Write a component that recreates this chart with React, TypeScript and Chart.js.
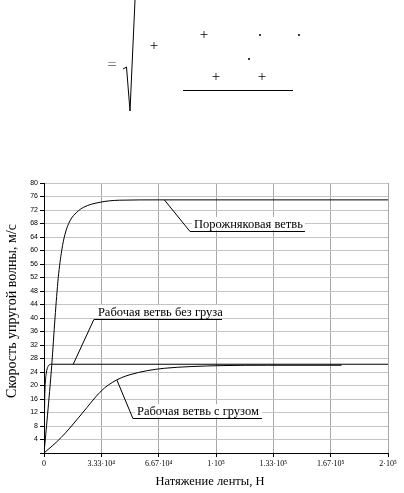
import React, { useEffect, useRef } from 'react';
import { Chart, registerables } from 'chart.js';
Chart.register(...registerables);

// Series: tension N (Н) and wave speed v (м/с)
const emptyN = [0, 2000, 4500, 6400, 8300, 10300, 12200, 15100, 19000, 23000, 32600, 44000, 67000, 200000];
const emptyV = [0, 11, 26, 40, 52, 60, 64.8, 68.8, 71.3, 72.8, 74.3, 74.9, 75, 75];
const unloadedN = [0, 400, 760, 1340, 2330, 4240, 200000];
const unloadedV = [0, 15.7, 20.7, 23.7, 25.6, 26.3, 26.3];
const loadedN = [0, 5000, 10000, 15000, 20000, 25000, 30000, 35000, 40000, 45000, 50000, 60000, 70000, 85000, 104000, 130000, 173000];
const loadedV = [0, 2.2, 4.6, 7.4, 10.4, 13.5, 16.6, 19.2, 21.0, 22.3, 23.2, 24.4, 25.1, 25.6, 25.9, 26.0, 26.0];

const xTickValues = [0, 33333.33, 66666.67, 100000, 133333.33, 166666.67, 200000];
const xTickLabels = ['0', '3.33·10⁴', '6.67·10⁴', '1·10⁵', '1.33·10⁵', '1.67·10⁵', '2·10⁵'];

// Callout labels (data coordinates)
const calloutTexts = ['Порожняковая ветвь', 'Рабочая ветвь без груза', 'Рабочая ветвь с грузом'];
const calloutAnchorN = [70000, 17000, 42400];
const calloutAnchorV = [75, 26.3, 21.6];
const calloutElbowN = [84900, 29000, 51700];
const calloutElbowV = [65.8, 39.7, 10.3];
const calloutEndN = [151700, 103500, 126700];

const xTitle = 'Натяжение ленты, Н';
const yTitle = 'Скорость упругой волны, м/с';

const zip = (xs: number[], ys: number[]) => xs.map((x, i) => ({ x, y: ys[i] }));

const extrasPlugin = {
  id: 'extras',
  afterDatasetsDraw(chart: any) {
    const ctx = chart.ctx as CanvasRenderingContext2D;
    const xs = chart.scales.x;
    const ys = chart.scales.y;
    ctx.save();
    // callouts
    ctx.font = '12.5px "Liberation Serif", serif';
    ctx.textBaseline = 'alphabetic';
    for (let i = 0; i < calloutTexts.length; i++) {
      const ax = xs.getPixelForValue(calloutAnchorN[i]);
      const ay = ys.getPixelForValue(calloutAnchorV[i]);
      const ex = xs.getPixelForValue(calloutElbowN[i]);
      const ey = ys.getPixelForValue(calloutElbowV[i]);
      const endx = xs.getPixelForValue(calloutEndN[i]);
      ctx.fillStyle = '#fff';
      ctx.fillRect(ex + 2, ey - 14, endx - ex - 2, 13);
      ctx.strokeStyle = '#000';
      ctx.lineWidth = 1;
      ctx.beginPath();
      ctx.moveTo(ax, ay);
      ctx.lineTo(ex, Math.round(ey) + 0.5);
      ctx.lineTo(endx, Math.round(ey) + 0.5);
      ctx.stroke();
      ctx.fillStyle = '#000';
      ctx.textAlign = 'left';
      ctx.fillText(calloutTexts[i], ex + 4, ey - 3);
    }
    // axis titles
    ctx.textAlign = 'center';
    ctx.textBaseline = 'middle';
    ctx.font = '12.5px "Liberation Serif", serif';
    ctx.fillText(xTitle, 210, 482);
    ctx.save();
    ctx.font = '14px "Liberation Serif", serif';
    ctx.translate(12, 311);
    ctx.rotate(-Math.PI / 2);
    ctx.fillText(yTitle, 0, 0);
    ctx.restore();

    // formula fragment at top
    ctx.fillStyle = '#777';
    ctx.font = '16px "Liberation Serif", serif';
    ctx.fillText('=', 112, 66);
    ctx.strokeStyle = '#000';
    ctx.lineWidth = 1;
    ctx.beginPath();
    ctx.moveTo(123, 69);
    ctx.lineTo(126.5, 67);
    ctx.lineTo(130, 111);
    ctx.lineTo(135, 0);
    ctx.stroke();
    ctx.fillStyle = '#000';
    ctx.font = '15px "Liberation Serif", serif';
    ctx.fillText('+', 154, 46);
    ctx.fillText('+', 204, 35);
    ctx.fillText('+', 216, 77);
    ctx.fillText('+', 262, 77);
    for (const [dx, dy] of [[260, 35], [299, 35], [249, 59]]) {
      ctx.beginPath();
      ctx.arc(dx, dy, 1, 0, Math.PI * 2);
      ctx.fill();
    }
    ctx.beginPath();
    ctx.moveTo(183, 90.5);
    ctx.lineTo(293, 90.5);
    ctx.stroke();
    ctx.restore();
  },
};

export default function App() {
  const ref = useRef<HTMLCanvasElement>(null);
  useEffect(() => {
    document.body.style.margin = '0';
    if (!ref.current) return;
    const line = (data: { x: number; y: number }[]) => ({
      data,
      borderColor: '#000',
      borderWidth: 1,
      pointRadius: 0,
      showLine: true,
      fill: false,
      cubicInterpolationMode: 'monotone' as const,
    });
    const chart = new Chart(ref.current, {
      type: 'scatter',
      data: {
        datasets: [
          { label: calloutTexts[0], ...line(zip(emptyN, emptyV)) },
          { label: calloutTexts[1], ...line(zip(unloadedN, unloadedV)) },
          { label: calloutTexts[2], ...line(zip(loadedN, loadedV)) },
        ],
      },
      options: {
        responsive: false,
        animation: false,
        devicePixelRatio: 1,
        layout: { padding: { top: 183, right: 16, left: 0, bottom: 0 } },
        plugins: { legend: { display: false }, tooltip: { enabled: false } },
        scales: {
          x: {
            type: 'linear',
            min: 0,
            max: 200000,
            afterFit: (s: any) => { s.height = 40; },
            afterBuildTicks: (s: any) => { s.ticks = xTickValues.map((v) => ({ value: v })); },
            ticks: {
              autoSkip: false,
              maxRotation: 0,
              padding: 2,
              color: '#000',
              font: { family: '"Liberation Serif", serif', size: 8 },
              callback: (_v: any, i: number) => xTickLabels[i],
            },
            grid: { color: '#a8a8a8', tickColor: '#000', tickLength: 4, lineWidth: 1 },
            border: { color: '#000', width: 1 },
          },
          y: {
            type: 'linear',
            min: 0,
            max: 80,
            afterFit: (s: any) => { s.width = 44; },
            ticks: {
              stepSize: 4,
              padding: 2,
              color: '#000',
              font: { family: '"Liberation Sans", sans-serif', size: 7 },
              callback: (v: any) => (v === 0 ? '' : String(v)),
            },
            grid: { color: '#c4c4c4', tickColor: '#000', tickLength: 4, lineWidth: 1 },
            border: { color: '#000', width: 1 },
          },
        },
      },
      plugins: [extrasPlugin],
    });
    return () => chart.destroy();
  }, []);
  return (
    <div style={{ position: 'absolute', left: 0, top: 0, width: 404, height: 493, background: '#fff' }}>
      <canvas ref={ref} width={404} height={493} style={{ width: 404, height: 493, display: 'block' }} />
    </div>
  );
}
